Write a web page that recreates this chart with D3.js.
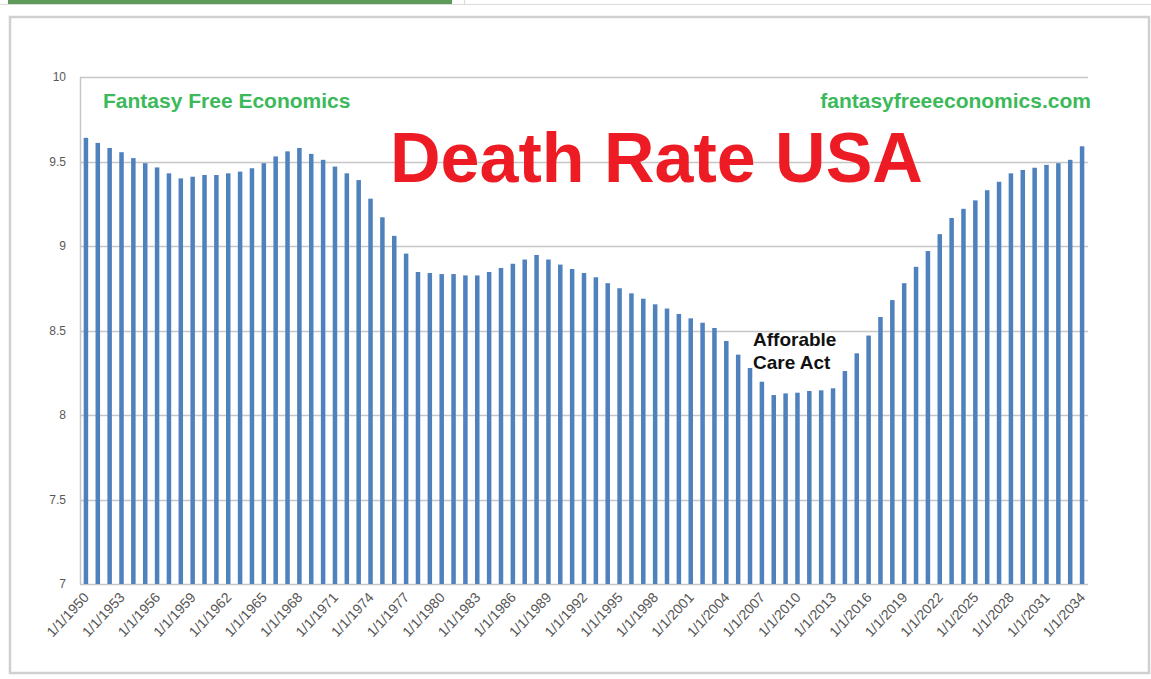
<!DOCTYPE html>
<html>
<head>
<meta charset="utf-8">
<script src="https://cdn.jsdelivr.net/npm/d3@7"></script>
<style>
  body { margin: 0; background: #fff; font-family: "Liberation Sans", Arial, sans-serif; }
</style>
</head>
<body>
<div id="chart"></div>
<script>
// years 1950..2034, one bar each
const years = [1950,1951,1952,1953,1954,1955,1956,1957,1958,1959,1960,1961,1962,1963,1964,1965,1966,1967,1968,1969,
  1970,1971,1972,1973,1974,1975,1976,1977,1978,1979,1980,1981,1982,1983,1984,1985,1986,1987,1988,1989,
  1990,1991,1992,1993,1994,1995,1996,1997,1998,1999,2000,2001,2002,2003,2004,2005,2006,2007,2008,2009,
  2010,2011,2012,2013,2014,2015,2016,2017,2018,2019,2020,2021,2022,2023,2024,2025,2026,2027,2028,2029,
  2030,2031,2032,2033,2034];

// death rate per 1000
const deathRate = [9.64,9.61,9.58,9.555,9.52,9.49,9.465,9.43,9.40,9.41,9.42,9.42,9.43,9.44,9.46,9.49,9.53,9.56,9.58,9.545,
  9.51,9.47,9.43,9.39,9.28,9.17,9.06,8.955,8.846,8.84,8.834,8.834,8.826,8.826,8.846,8.87,8.895,8.92,8.947,8.92,
  8.89,8.864,8.84,8.815,8.78,8.75,8.72,8.688,8.655,8.63,8.598,8.572,8.546,8.515,8.438,8.357,8.278,8.197,8.118,8.128,
  8.132,8.142,8.146,8.158,8.26,8.365,8.47,8.58,8.68,8.78,8.877,8.97,9.07,9.166,9.22,9.27,9.33,9.38,9.43,9.45,
  9.463,9.48,9.49,9.51,9.59];

const yTicks = [7, 7.5, 8, 8.5, 9, 9.5, 10];
const xTickYears = years.filter(y => (y - 1950) % 3 === 0);

const width = 1151, height = 679;
const margin = { top: 77, right: 63, bottom: 95, left: 80 };

const svg = d3.select("#chart")
    .append("svg")
    .attr("width", width)
    .attr("height", height);

// page strip at the top
svg.append("rect").attr("x", 8).attr("y", 0).attr("width", 444).attr("height", 4).attr("fill", "#5e9a5a");
svg.append("line").attr("x1", 0).attr("x2", width).attr("y1", 4.5).attr("y2", 4.5).attr("stroke", "#dcdcdc");
svg.append("line").attr("x1", 464.5).attr("x2", 464.5).attr("y1", 0).attr("y2", 4.5).attr("stroke", "#dcdcdc");

// chart frame
svg.append("rect")
    .attr("x", 10).attr("y", 17)
    .attr("width", 1139).attr("height", 656)
    .attr("fill", "#fff")
    .attr("stroke", "#d0d0d0")
    .attr("stroke-width", 2.5);

const x = d3.scaleBand()
    .domain(years)
    .range([margin.left, width - margin.right])
    .paddingInner(0.62)
    .paddingOuter(0.31);

const y = d3.scaleLinear()
    .domain([7, 10])
    .range([height - margin.bottom, margin.top]);

// gridlines
svg.append("g")
    .selectAll("line")
    .data(yTicks)
    .join("line")
    .attr("x1", margin.left)
    .attr("x2", width - margin.right)
    .attr("y1", d => Math.round(y(d)) + 0.5)
    .attr("y2", d => Math.round(y(d)) + 0.5)
    .attr("stroke", "#c6c6c6")
    .attr("stroke-width", 1.5);

// left axis line
svg.append("line")
    .attr("x1", margin.left + 0.5).attr("x2", margin.left + 0.5)
    .attr("y1", y(10)).attr("y2", y(7))
    .attr("stroke", "#c6c6c6")
    .attr("stroke-width", 1.5);

// y labels
svg.append("g")
    .selectAll("text")
    .data(yTicks)
    .join("text")
    .attr("x", 66)
    .attr("y", d => y(d))
    .attr("dy", "0.35em")
    .attr("text-anchor", "end")
    .style("font-size", "12px")
    .style("fill", "#595959")
    .text(d => d);

// bars
svg.append("g")
    .selectAll("rect")
    .data(years)
    .join("rect")
    .attr("x", d => x(d))
    .attr("width", x.bandwidth())
    .attr("y", (d, i) => y(deathRate[i]))
    .attr("height", (d, i) => y(7) - y(deathRate[i]))
    .attr("fill", "#4f81bd");

// x labels, rotated
svg.append("g")
    .selectAll("text")
    .data(xTickYears)
    .join("text")
    .attr("transform", d => `translate(${x(d) + x.bandwidth() / 2 + 4},${y(7) + 14}) rotate(-47)`)
    .attr("text-anchor", "end")
    .style("font-size", "14px")
    .style("fill", "#555")
    .text(d => `1/1/${d}`);

// texts
svg.append("text")
    .attr("x", 103).attr("y", 108)
    .style("font-size", "21px").style("font-weight", "bold")
    .style("fill", "#3cb95a")
    .text("Fantasy Free Economics");

svg.append("text")
    .attr("x", 1091).attr("y", 108)
    .attr("text-anchor", "end")
    .style("font-size", "21px").style("font-weight", "bold")
    .style("fill", "#3cb95a")
    .text("fantasyfreeeconomics.com");

svg.append("text")
    .attr("x", 390).attr("y", 182)
    .style("font-size", "70px").style("font-weight", "bold")
    .style("fill", "#ed1c24")
    .text("Death Rate USA");

const note = svg.append("text")
    .attr("x", 753).attr("y", 346)
    .style("font-size", "19px").style("font-weight", "bold")
    .style("fill", "#111");
note.append("tspan").attr("x", 753).text("Afforable");
note.append("tspan").attr("x", 753).attr("dy", 23).text("Care Act");
</script>
</body>
</html>
